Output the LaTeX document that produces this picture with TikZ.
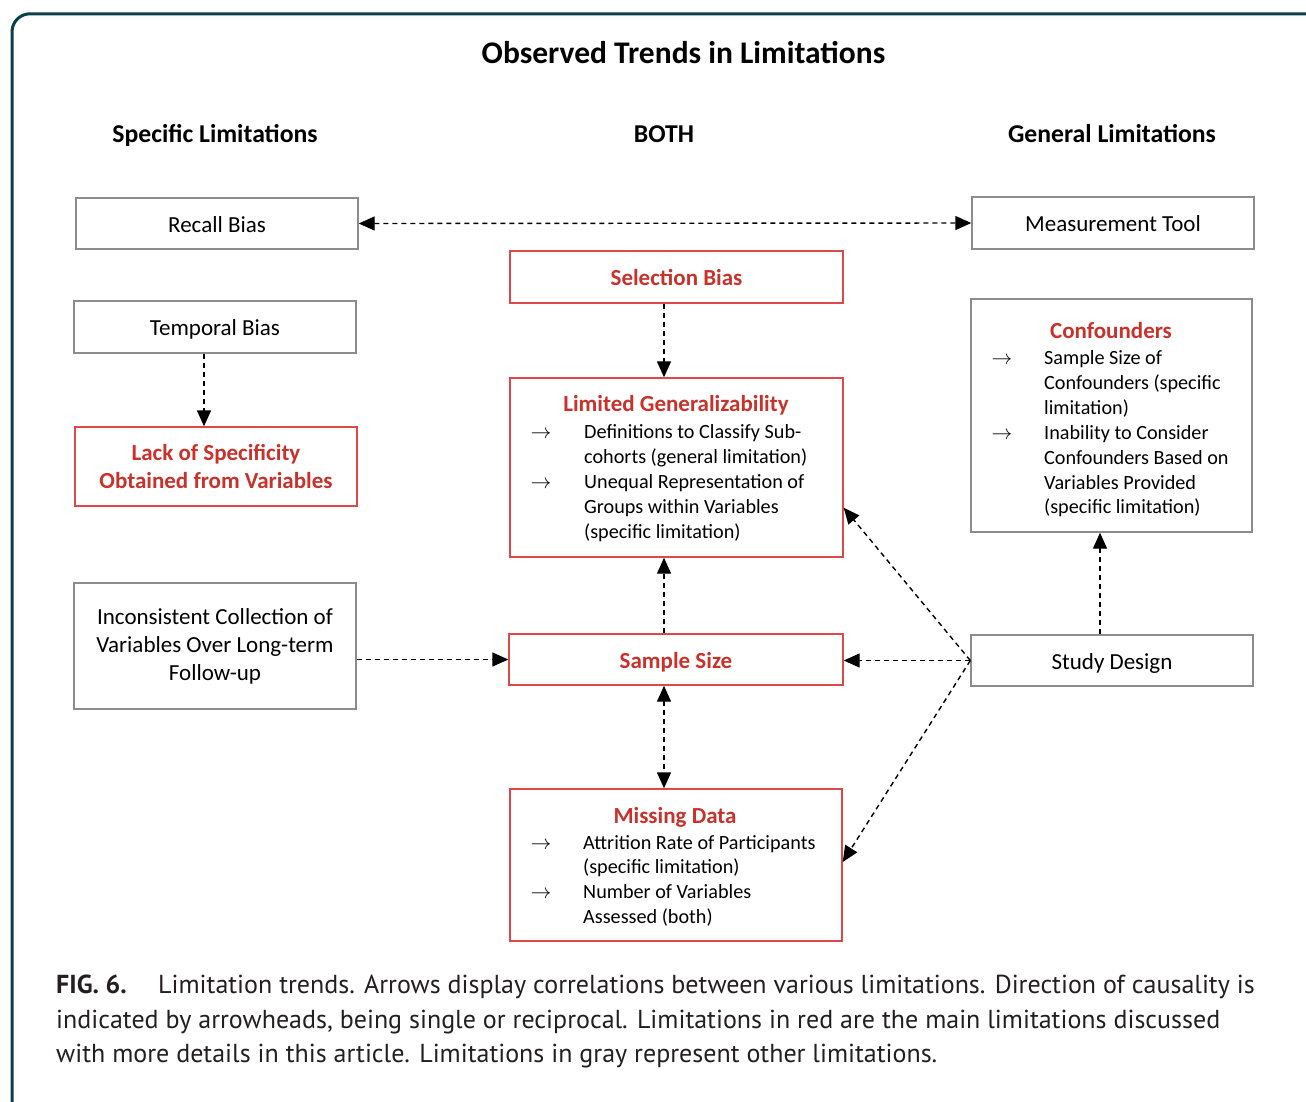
\documentclass[tikz,border=0pt]{standalone}
\usepackage{fontspec}
\setmainfont{Carlito}
\newfontfamily\capfont{PT Sans}
\usetikzlibrary{arrows.meta}
\definecolor{framec}{HTML}{0A3F4A}
\definecolor{redt}{HTML}{C8322B}
\definecolor{redb}{HTML}{E0474A}
\definecolor{grayb}{HTML}{8C8C8C}
\definecolor{capc}{HTML}{231F20}
\begin{document}
\begin{tikzpicture}[x=1pt,y=-1pt,
  box/.style={draw=grayb, line width=1.4pt, inner sep=0pt, rectangle, align=center,
              font=\fontsize{23}{28}\selectfont},
  rbox/.style={box, draw=redb, text=redt, font=\fontsize{23}{28}\selectfont\bfseries},
  oneline/.style={text height=17pt, text depth=0pt},
  txt/.style={inner sep=0pt, anchor=base west, font=\fontsize{20.2}{25}\selectfont},
  ttl/.style={inner sep=0pt, anchor=base, font=\fontsize{23}{25}\selectfont\bfseries, text=redt},
  arr/.style={inner sep=0pt, anchor=base, font=\fontsize{21}{25}\selectfont},
  hdr/.style={inner sep=0pt, anchor=base, font=\fontsize{25.7}{28}\selectfont\bfseries},
  captxt/.style={inner sep=0pt, anchor=base west, text=capc, font=\capfont\fontsize{26}{34}\selectfont},
  conn/.style={line width=1.4pt, dash pattern=on 5pt off 4pt, -{Triangle[length=16pt,width=14pt]}},
  bconn/.style={conn, {Triangle[length=16pt,width=14pt]}-{Triangle[length=16pt,width=14pt]}},
]
\useasboundingbox (0,0) rectangle (1306,1101);
\clip (0,0) rectangle (1306,1101);
\fill[white] (0,0) rectangle (1306,1101);
\draw[framec, line width=3pt, rounded corners=18pt] (12,1140) -- (12,13.8) -- (1340,13.8);

% titles
\node[inner sep=0pt, anchor=base, font=\fontsize{31.5}{34}\selectfont\bfseries] (title) at (683.5,63) {Observed Trends in Limitations};
\node[hdr] (hspec) at (215,142) {Specific Limitations};
\node[hdr] (hboth) at (664,142) {BOTH};
\node[hdr] (hgen) at (1112,142) {General Limitations};

% coordinates for vertical connectors
\coordinate (cx) at (664,0);
\coordinate (tx) at (204,0);
\coordinate (fx) at (1100,0);

% left column
\node[box, oneline, minimum width=282pt, minimum height=51pt] (recall) at (217,223.5) {Recall Bias};
\node[box, oneline, minimum width=282pt, minimum height=52pt] (temporal) at (215,327) {Temporal Bias};
\node[rbox, minimum width=282pt, minimum height=79pt] (lack) at (216,466.5) {Lack of Specificity\\Obtained from Variables};
\node[box, minimum width=282pt, minimum height=126pt] (incons) at (215,646) {Inconsistent Collection of\\Variables Over Long-term\\Follow-up};

% middle column
\node[rbox, oneline, minimum width=333pt, minimum height=52pt] (sel) at (676.5,277) {Selection Bias};
\node[rbox, minimum width=333pt, minimum height=179pt] (lim) at (676.5,467.5) {};
\node[ttl] (limt) at (676,411) {Limited Generalizability};
\node[arr] (lima1) at (541,438) {$\rightarrow$};
\node[txt] (liml1) at (584,438) {Definitions to Classify Sub-};
\node[txt] (liml2) at (584,463) {cohorts (general limitation)};
\node[arr] (lima2) at (541,488) {$\rightarrow$};
\node[txt] (liml3) at (584,488) {Unequal Representation of};
\node[txt] (liml4) at (584,513) {Groups within Variables};
\node[txt] (liml5) at (584,538) {(specific limitation)};

\node[rbox, oneline, minimum width=334pt, minimum height=51pt] (sample) at (676,659.5) {Sample Size};

\node[rbox, minimum width=332pt, minimum height=152pt] (miss) at (676,865) {};
\node[ttl] (misst) at (675,823) {Missing Data};
\node[arr] (missa1) at (541,849) {$\rightarrow$};
\node[txt] (missl1) at (583,849) {Attrition Rate of Participants};
\node[txt] (missl2) at (583,873) {(specific limitation)};
\node[arr] (missa2) at (541,898) {$\rightarrow$};
\node[txt] (missl3) at (583,898) {Number of Variables};
\node[txt] (missl4) at (583,923) {Assessed (both)};

% right column
\node[box, oneline, minimum width=282pt, minimum height=52pt] (meas) at (1113,223) {Measurement Tool};
\node[box, minimum width=281pt, minimum height=233pt] (conf) at (1111.5,415.5) {};
\node[ttl] (conft) at (1111,338) {Confounders};
\node[arr] (confa1) at (1002,364) {$\rightarrow$};
\node[txt] (confl1) at (1044,364) {Sample Size of};
\node[txt] (confl2) at (1044,389) {Confounders (specific};
\node[txt] (confl3) at (1044,414) {limitation)};
\node[arr] (confa2) at (1002,439) {$\rightarrow$};
\node[txt] (confl4) at (1044,439) {Inability to Consider};
\node[txt] (confl5) at (1044,464) {Confounders Based on};
\node[txt] (confl6) at (1044,489) {Variables Provided};
\node[txt] (confl7) at (1044,513) {(specific limitation)};
\node[box, oneline, minimum width=282pt, minimum height=51pt] (study) at (1112,660.5) {Study Design};

% connectors
\draw[bconn] (recall.east) -- (meas.west);
\draw[conn] (cx |- sel.south) -- (cx |- lim.north);
\draw[conn] (tx |- temporal.south) -- (tx |- lack.north);
\draw[conn] (cx |- sample.north) -- (cx |- lim.south);
\draw[bconn] (cx |- sample.south) -- (cx |- miss.north);
\draw[conn] (incons.east |- sample.west) -- (sample.west);
\draw[conn] (study.west) -- (study.west -| sample.east);
\draw[conn] (study.west) -- ([yshift=50pt]lim.south east);
\draw[conn] (study.west) -- ([yshift=3pt]miss.east);
\draw[conn] (fx |- study.north) -- (fx |- conf.south);

% caption
\node[captxt, font=\capfont\bfseries\fontsize{26}{34}\selectfont] (fig) at (56,993) {FIG. 6.};
\node[captxt] (cap1) at (158,993) {Limitation trends. Arrows display correlations between various limitations. Direction of causality is};
\node[captxt] (cap2) at (56,1028) {indicated by arrowheads, being single or reciprocal. Limitations in red are the main limitations discussed};
\node[captxt] (cap3) at (56,1062) {with more details in this article. Limitations in gray represent other limitations.};
\end{tikzpicture}
\end{document}
